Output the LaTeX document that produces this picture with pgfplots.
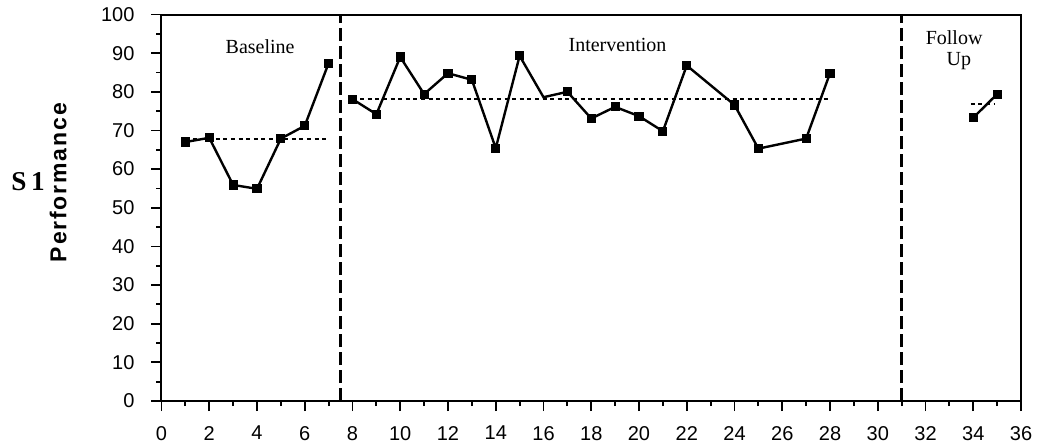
\documentclass[border=0pt]{standalone}
\usepackage{fontspec}
\setmainfont{Liberation Serif}
\setsansfont{Liberation Sans}
\newfontfamily\perffont[LetterSpace=8]{Liberation Sans}
\usepackage{pgfplots}
\pgfplotsset{compat=1.18}

\begin{document}
\begin{tikzpicture}
\useasboundingbox (-80.75pt,-22.5pt) rectangle (440.75pt,200.5pt);
\begin{axis}[
    at={(0,0)}, anchor=south west,
    scale only axis,
    width=429.75pt, height=193.25pt,
    xmin=0, xmax=36, ymin=0, ymax=100,
    xtick={0,2,...,36}, minor x tick num=1,
    ytick={0,10,...,100}, minor y tick num=1,
    tick align=outside, tick pos=left,
    major tick length=5pt, minor tick length=2.5pt,
    every tick/.style={black, line width=0.9pt},
    axis line style={line width=1pt},
    clip=false,
    tick label style={font=\sffamily\fontsize{10}{12}\selectfont},
    xticklabel style={yshift=-4pt},
    yticklabel style={xshift=-5pt},
    /pgf/number format/assume math mode=true,
    every axis plot/.append style={black},
]
    % phase change lines
    \addplot[line width=1.2pt, dash pattern=on 6.5pt off 2.5pt] coordinates {(7.5,0) (7.5,100)};
    \addplot[line width=1.2pt, dash pattern=on 6.5pt off 2.5pt] coordinates {(31,0) (31,100)};

    % phase means
    \addplot[line width=1pt, dash pattern=on 2pt off 1.8pt] coordinates {(1,67.7) (7,67.7)};
    \addplot[line width=1pt, dash pattern=on 2pt off 1.8pt] coordinates {(8,78.1) (28,78.1)};
    \addplot[line width=1pt, dash pattern=on 2pt off 1.8pt] coordinates {(33.9,76.9) (34.9,76.9)};

    % baseline
    \addplot[line width=1.2pt, mark=square*, mark size=1.7pt] coordinates {
        (1,67.0) (2,68.1) (3,55.9) (4,54.9) (5,67.9) (6,71.2) (7,87.4)};
    % intervention
    \addplot[line width=1.2pt, mark=square*, mark size=1.7pt,
        mark indices={1,2,3,4,5,6,7,8,10,11,12,13,14,15,16,17,18,19}] coordinates {
        (8,78.1) (9,74.2) (10,89.0) (11,79.4) (12,84.8) (13,83.1) (14,65.4)
        (15,89.3) (16,78.6) (17,80.0) (18,73.1) (19,76.1) (20,73.7) (21,69.8)
        (22,86.8) (24,76.6) (25,65.3) (27,67.9) (28,84.8)};
    % follow up
    \addplot[line width=1.2pt, mark=square*, mark size=1.7pt] coordinates {
        (34,73.3) (35,79.4)};

    \node[font=\fontsize{10}{12}\selectfont] at (axis cs:4.13,91.7) {Baseline};
    \node[font=\fontsize{10}{12}\selectfont] at (axis cs:19.1,92.1) {Intervention};
    \node[font=\fontsize{10}{12}\selectfont] at (axis cs:33.2,94.0) {Follow};
    \node[font=\fontsize{10}{12}\selectfont] at (axis cs:33.4,88.0) {Up};

    \node[rotate=90, font=\perffont\bfseries\fontsize{11.5}{13}\selectfont] at (axis cs:-4.33,56.5) {Performance};
    \node[font=\bfseries\fontsize{13.6}{15}\selectfont] at (axis cs:-5.59,56.8) {S\,1};
\end{axis}
\end{tikzpicture}
\end{document}
